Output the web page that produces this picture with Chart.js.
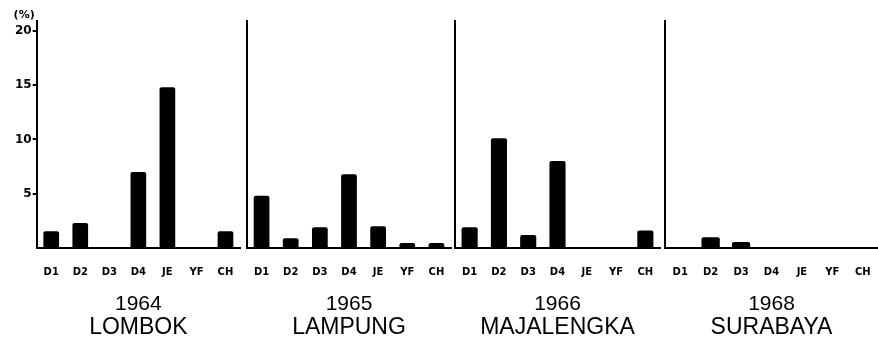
<!DOCTYPE html>
<html>
<head>
<meta charset="utf-8">
<script src="https://cdn.jsdelivr.net/npm/chart.js@4/dist/chart.umd.min.js"></script>
<style>
  html, body { margin: 0; padding: 0; background: #fff; }
  #wrap { position: relative; width: 878px; height: 339px; overflow: hidden; }
  #wrap canvas { position: absolute; top: 0; }
</style>
</head>
<body>
<div id="wrap">
  <canvas id="p1" width="242" height="339" style="left:0px"></canvas>
  <canvas id="p2" width="209" height="339" style="left:244px"></canvas>
  <canvas id="p3" width="210" height="339" style="left:452px"></canvas>
  <canvas id="p4" width="218" height="339" style="left:662px"></canvas>
</div>
<script>
// --- data (percent) ---
const categories = ['D1', 'D2', 'D3', 'D4', 'JE', 'YF', 'CH'];

const lombok1964     = [1.55, 2.3, 0, 7.0, 14.8, 0, 1.55];
const lampung1965    = [4.8, 0.9, 1.9, 6.8, 2.0, 0.45, 0.45];
const majalengka1966 = [1.9, 10.1, 1.2, 8.0, 0, 0, 1.6];
const surabaya1968   = [0, 1.0, 0.55, 0, 0, 0, 0];

const panelYears  = ['1964', '1965', '1966', '1968'];
const panelPlaces = ['LOMBOK', 'LAMPUNG', 'MAJALENGKA', 'SURABAYA'];
const panelValues = [lombok1964, lampung1965, majalengka1966, surabaya1968];

const yTickStep = 5;
const yMax = 20.9;      // axis line runs a little above the "20" tick
const yUnit = '(%)';

// --- styling ---
const INK = '#000';
const canvasIds = ['p1', 'p2', 'p3', 'p4'];
const padLeft = [14, 3, 3, 3];
const barPct = [0.54, 0.54, 0.55, 0.6];

// small "(%)" caption above the first panel's value labels
const unitLabel = {
    id: 'unitLabel',
    afterDraw(chart, args, opts) {
        if (!opts.show) return;
        const y = chart.scales.y;
        const c = chart.ctx;
        c.save();
        c.font = 'bold 11px "DejaVu Sans"';
        c.fillStyle = INK;
        c.textAlign = 'right';
        c.textBaseline = 'middle';
        c.fillText(yUnit, y.right - 2, y.top - 6);
        c.restore();
    }
};

function makePanel(i) {
    const first = i === 0;
    const ctx = document.getElementById(canvasIds[i]).getContext('2d');
    return new Chart(ctx, {
        type: 'bar',
        data: {
            labels: categories,
            datasets: [{
                data: panelValues[i],
                backgroundColor: INK,
                borderWidth: 0,
                borderRadius: 2,
                borderSkipped: 'bottom',
                categoryPercentage: 1,
                barPercentage: barPct[i]
            }]
        },
        options: {
            responsive: false,
            animation: false,
            devicePixelRatio: 1,
            layout: { padding: { top: 21, left: padLeft[i], right: 2, bottom: 0 } },
            scales: {
                x: {
                    // grid hidden, but the tick length keeps the gap under the baseline
                    grid: { display: false, drawTicks: true, tickLength: 17 },
                    border: { display: true, color: INK, width: 2 },
                    ticks: {
                        color: INK,
                        padding: 1,
                        maxRotation: 0,
                        autoSkip: false,
                        font: { family: '"DejaVu Sans"', size: 10, weight: 'bold' }
                    }
                },
                y: {
                    min: 0,
                    max: yMax,
                    grid: {
                        display: first,
                        drawOnChartArea: false,
                        drawTicks: first,
                        tickLength: 4,
                        lineWidth: 2,
                        color: c => (c.tick && c.tick.value === 0) ? 'rgba(0,0,0,0)' : INK
                    },
                    border: { display: true, color: INK, width: 2 },
                    ticks: {
                        display: first,
                        stepSize: yTickStep,
                        includeBounds: false,
                        padding: 1,
                        color: INK,
                        font: { family: '"DejaVu Sans"', size: 12, weight: 'bold' },
                        callback: v => (v === 0 ? '' : v)
                    }
                }
            },
            plugins: {
                legend: { display: false },
                tooltip: { enabled: false },
                unitLabel: { show: first },
                // at the bottom the subtitle sits above the title
                subtitle: {
                    display: true,
                    position: 'bottom',
                    fullSize: false,
                    text: panelYears[i],
                    color: INK,
                    padding: { top: 15, bottom: 1 },
                    font: { family: '"Liberation Sans"', size: 21, weight: 'normal', lineHeight: 1 }
                },
                title: {
                    display: true,
                    position: 'bottom',
                    fullSize: false,
                    text: panelPlaces[i],
                    color: INK,
                    padding: { top: 0, bottom: 0 },
                    font: { family: '"Liberation Sans"', size: 23, weight: 'normal', lineHeight: 1 }
                }
            }
        },
        plugins: [unitLabel]
    });
}

panelValues.forEach((_, i) => makePanel(i));
</script>
</body>
</html>
